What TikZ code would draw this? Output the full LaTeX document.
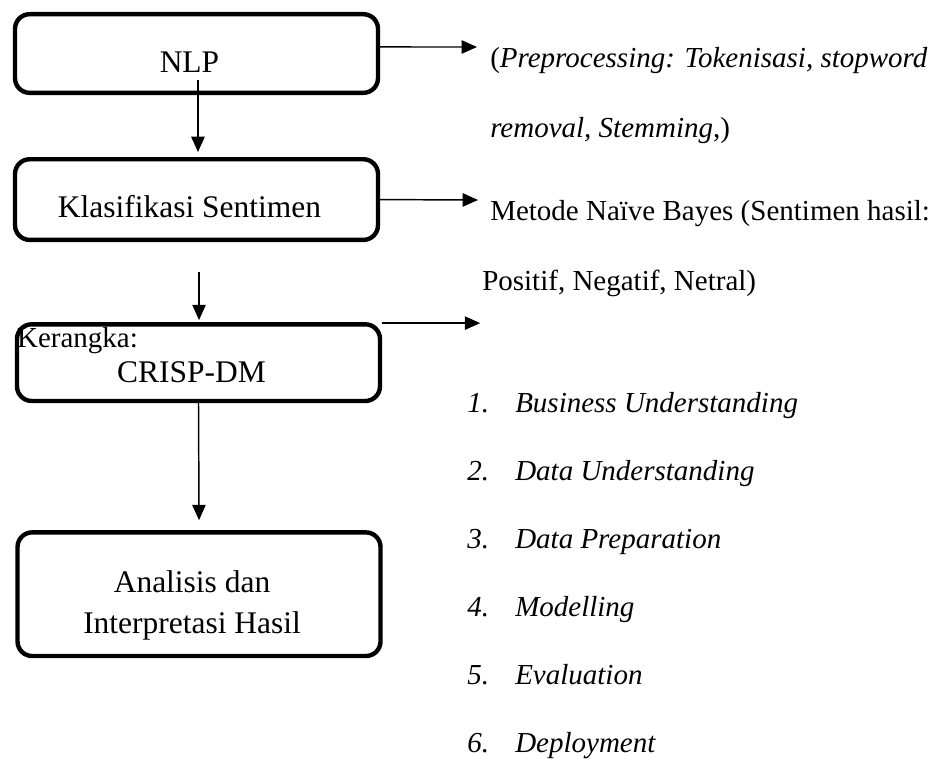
\documentclass[tikz,border=0pt]{standalone}
\usepackage{fontspec}
\setmainfont{Liberation Serif}
\usepackage{tikz}
\usepackage{xcolor}
\usetikzlibrary{arrows.meta, positioning}
\tikzstyle{stagebox} = [rectangle, rounded corners=11pt, minimum width=272.25pt, draw=black, line width=3.3pt, inner sep=0pt]
\tikzstyle{boxtext} = [font=\fontsize{23.6}{30.75}\selectfont, align=center, inner sep=0pt]
\tikzstyle{sidetext} = [font=\fontsize{21.75}{52.5}\selectfont, align=left, anchor=base west, inner sep=0pt]
\tikzstyle{steplist} = [font=\fontsize{21.75}{51}\selectfont\itshape, align=left, anchor=base west, inner sep=0pt]
\tikzstyle{arrow} = [line width=1.1pt, -{Triangle[length=11.5pt,width=10pt]}]

\begin{document}
\begin{tikzpicture}[x=0.75pt, y=-0.75pt]
  \useasboundingbox (0,0) rectangle (949,758);

  % Boxes for main flow
  \node (nlp) [stagebox, minimum height=59pt] at (196.5,53.5) {};
  \node (kls) [stagebox, minimum height=60.5pt, below=46.5pt of nlp] {};
  \node (crisp) [stagebox, minimum height=57.5pt, below=60pt of kls, xshift=1.5pt] {};
  \node (ana) [stagebox, minimum height=92.75pt, below=95.25pt of crisp, xshift=0.4pt] {};

  % Texts inside the boxes
  \node (nlptext) [boxtext] at ([shift={(-5.25pt,-6.4pt)}]nlp.center) {NLP};
  \node (klstext) [boxtext] at ([shift={(-5.25pt,-5.6pt)}]kls.center) {Klasifikasi Sentimen};
  \node (crisptext) [boxtext] at ([shift={(-5.25pt,-7.1pt)}]crisp.center) {CRISP-DM};
  \node (kerangka) [sidetext, font=\fontsize{21.75}{26}\selectfont] at ([shift={(1.5pt,-18.75pt)}]crisp.north west) {Kerangka:};
  \node (anatext) [boxtext] at ([shift={(-5.25pt,-8.25pt)}]ana.center) {Analisis dan\\Interpretasi Hasil};

  % Texts on the right (placed by their last line)
  \node (prep) [sidetext] at (490,137) {(\textit{Preprocessing: Tokenisasi, stopword}\\\textit{removal, Stemming},)};
  \node (metode) [sidetext] at (490,290) {Metode Naïve Bayes (Sentimen hasil:\\\hspace*{-6pt}Positif, Negatif, Netral)};
  \node (steps) [steplist] at (467,752) {%
    \makebox[36pt][l]{1.}Business Understanding\\
    \makebox[36pt][l]{2.}Data Understanding\\
    \makebox[36pt][l]{3.}Data Preparation\\
    \makebox[36pt][l]{4.}Modelling\\
    \makebox[36pt][l]{5.}Evaluation\\
    \makebox[36pt][l]{6.}Deployment};
  \coordinate (crispend) at ([shift={(73.5pt,-0.75pt)}]crisp.north east);

  % Arrows for main flow
  \draw [arrow] ([xshift=1.1pt,yshift=11.25pt]nlp.south) -- ([xshift=1.1pt,yshift=3.75pt]kls.north);
  \draw [arrow] ([xshift=1.9pt,yshift=-22.5pt]kls.south) -- ([xshift=0.4pt,yshift=1.5pt]crisp.north);
  \draw [arrow] (crisp.south) -- ([yshift=7.5pt]ana.north);

  % Arrows to the right
  \draw [arrow] ([yshift=4.9pt]nlp.east) -- ([shift={(-9.75pt,67.5pt)}]prep.base west);
  \draw [arrow] (kls.east) -- ([shift={(-9pt,67.5pt)}]metode.base west);
  \draw [arrow] ([yshift=-0.75pt]crisp.north east) -- (crispend);

\end{tikzpicture}
\end{document}
